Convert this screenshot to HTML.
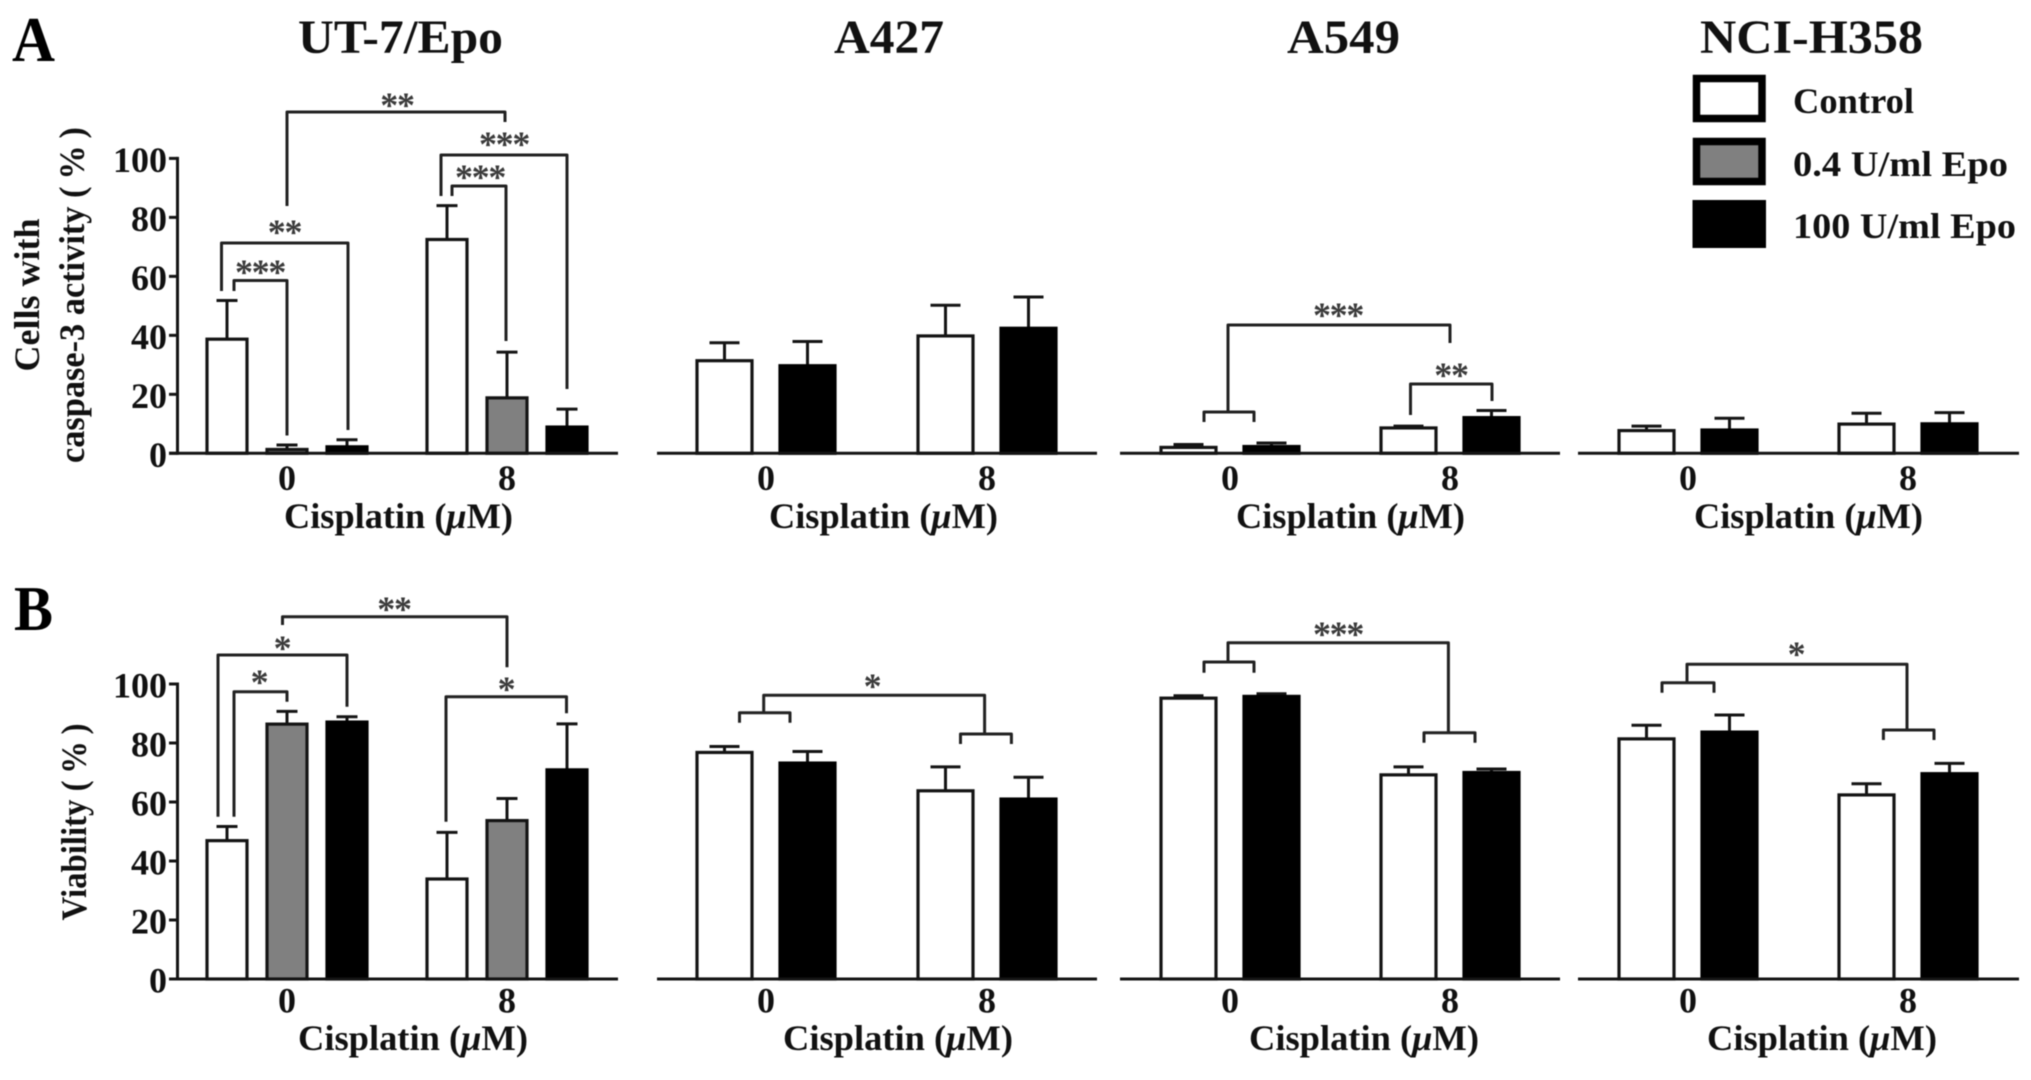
<!DOCTYPE html>
<html lang="en">
<head>
<meta charset="utf-8">
<title>Caspase-3 activity and viability by cell line</title>
<style>
  html, body { margin: 0; padding: 0; background: #fff; }
  svg { display: block; filter: blur(0.6px); }
  text { font-family: "Liberation Serif", serif; font-weight: bold; fill: #111; }
  .title { font-size: 48px; }
  .panel-letter { font-size: 64px; fill: #000; }
  .label { font-size: 36px; }
  .stars { font-size: 36px; letter-spacing: -1.3px; fill: #3a3a3a; text-anchor: middle; }
  .bracket { fill: none; stroke: #222; stroke-width: 3; stroke-linejoin: round; }
</style>
</head>
<body>
<svg id="figure" width="2031" height="1080" viewBox="0 0 2031 1080" xmlns="http://www.w3.org/2000/svg">

  <text class="panel-letter" x="12" y="61" textLength="43" lengthAdjust="spacingAndGlyphs">A</text>
  <text class="panel-letter" x="14" y="630" textLength="39" lengthAdjust="spacingAndGlyphs">B</text>

  <text class="title" x="298" y="53" textLength="205" lengthAdjust="spacingAndGlyphs">UT-7/Epo</text>
  <text class="title" x="834" y="53" textLength="110" lengthAdjust="spacingAndGlyphs">A427</text>
  <text class="title" x="1287" y="53" textLength="113" lengthAdjust="spacingAndGlyphs">A549</text>
  <text class="title" x="1700" y="53" textLength="223" lengthAdjust="spacingAndGlyphs">NCI-H358</text>

  <text class="label" text-anchor="middle" transform="translate(39,295) rotate(-90)">Cells with</text>
  <text class="label" text-anchor="middle" textLength="336" lengthAdjust="spacingAndGlyphs" transform="translate(84,295) rotate(-90)">caspase-3 activity (&#8201;%&#8201;)</text>
  <text class="label" text-anchor="middle" textLength="197" lengthAdjust="spacingAndGlyphs" transform="translate(86,822) rotate(-90)">Viability (&#8201;%&#8201;)</text>

  <g>
    <text class="label" x="284" y="528" textLength="229" lengthAdjust="spacingAndGlyphs">Cisplatin (<tspan font-style="italic">μ</tspan>M)</text>
    <text class="label" x="769" y="528" textLength="229" lengthAdjust="spacingAndGlyphs">Cisplatin (<tspan font-style="italic">μ</tspan>M)</text>
    <text class="label" x="1236" y="528" textLength="229" lengthAdjust="spacingAndGlyphs">Cisplatin (<tspan font-style="italic">μ</tspan>M)</text>
    <text class="label" x="1694" y="528" textLength="229" lengthAdjust="spacingAndGlyphs">Cisplatin (<tspan font-style="italic">μ</tspan>M)</text>
    <text class="label" x="298" y="1050" textLength="230" lengthAdjust="spacingAndGlyphs">Cisplatin (<tspan font-style="italic">μ</tspan>M)</text>
    <text class="label" x="783" y="1050" textLength="230" lengthAdjust="spacingAndGlyphs">Cisplatin (<tspan font-style="italic">μ</tspan>M)</text>
    <text class="label" x="1249" y="1050" textLength="230" lengthAdjust="spacingAndGlyphs">Cisplatin (<tspan font-style="italic">μ</tspan>M)</text>
    <text class="label" x="1707" y="1050" textLength="230" lengthAdjust="spacingAndGlyphs">Cisplatin (<tspan font-style="italic">μ</tspan>M)</text>
  </g>

  <g>
    <rect x="1696.5" y="78.5" width="65.5" height="40" fill="#fff" stroke="#000" stroke-width="7.5"/>
    <text class="label" x="1793" y="113" textLength="121" lengthAdjust="spacingAndGlyphs">Control</text>
    <rect x="1696.5" y="141.5" width="65.5" height="40" fill="#808080" stroke="#000" stroke-width="7.5"/>
    <text class="label" x="1793" y="176" textLength="215" lengthAdjust="spacingAndGlyphs">0.4 U/ml Epo</text>
    <rect x="1692.5" y="200" width="73.5" height="48" fill="#000"/>
    <text class="label" x="1793" y="238" textLength="223" lengthAdjust="spacingAndGlyphs">100 U/ml Epo</text>
  </g>

  <g id="plots"></g>

  <g>
    <path class="bracket" d="M287 206V112H505V122"/>
    <text class="stars" x="397" y="117">**</text>
    <path class="bracket" d="M441 196V155H567V389"/>
    <text class="stars" x="504" y="156">***</text>
    <path class="bracket" d="M452 196V186H506V341"/>
    <text class="stars" x="480" y="189">***</text>
    <path class="bracket" d="M221.5 291V243H348V430"/>
    <text class="stars" x="284.500" y="244">**</text>
    <path class="bracket" d="M234 291V280.500H287V435.500"/>
    <text class="stars" x="260" y="284">***</text>
  </g>

  <g>
    <path class="bracket" d="M1204 422V412H1254V422"/>
    <path class="bracket" d="M1228 412V325H1450V343"/>
    <text class="stars" x="1338" y="327">***</text>
    <path class="bracket" d="M1410.500 415V384H1492V401"/>
    <text class="stars" x="1451" y="387">**</text>
  </g>

  <g>
    <path class="bracket" d="M282.500 625V616.700H507V667.300"/>
    <text class="stars" x="394" y="621">**</text>
    <path class="bracket" d="M218 816.700V655H347V706.700"/>
    <text class="stars" x="282" y="660">*</text>
    <path class="bracket" d="M234 816.700V691.700H287V701.700"/>
    <text class="stars" x="259" y="694">*</text>
    <path class="bracket" d="M446 821.700V696.700H566.500V713.300"/>
    <text class="stars" x="506" y="701">*</text>
  </g>

  <g>
    <path class="bracket" d="M739.500 722.700V712.700H790V722.700"/>
    <path class="bracket" d="M763.700 712.700V695.300H984.600V734"/>
    <path class="bracket" d="M960.500 744V734H1011.400V744"/>
    <text class="stars" x="872" y="698">*</text>
  </g>

  <g>
    <path class="bracket" d="M1204 672.700V662H1254V672.700"/>
    <path class="bracket" d="M1228 662V642.700H1448.400V732.700"/>
    <path class="bracket" d="M1424 742.700V732.700H1475V742.700"/>
    <text class="stars" x="1338" y="646">***</text>
  </g>

  <g>
    <path class="bracket" d="M1662 692.700V682.700H1714V692.700"/>
    <path class="bracket" d="M1687 682.700V664.300H1907V730"/>
    <path class="bracket" d="M1883.400 740V730H1934V740"/>
    <text class="stars" x="1796" y="666">*</text>
  </g>
</svg>

<script>
// Categories and tick labels
const categories = ['0', '8'];
const yTickLabels = [0, 20, 40, 60, 80, 100];

// Panel A: cells with caspase-3 activity (%) — means and upper error lengths
const ut7CaspaseControl = [38.7, 72.5];
const ut7CaspaseControlErr = [13.1, 11.5];
const ut7CaspaseLow = [1.3, 18.8];
const ut7CaspaseLowErr = [1.5, 15.5];
const ut7CaspaseHigh = [2.2, 8.9];
const ut7CaspaseHighErr = [2.4, 6.1];
const a427CaspaseControl = [31.4, 39.8];
const a427CaspaseControlErr = [6.1, 10.4];
const a427CaspaseHigh = [29.7, 42.4];
const a427CaspaseHighErr = [8.2, 10.6];
const a549CaspaseControl = [2.0, 8.6];
const a549CaspaseControlErr = [1.0, 0.6];
const a549CaspaseHigh = [2.3, 12.1];
const a549CaspaseHighErr = [1.2, 2.4];
const nciCaspaseControl = [7.7, 9.9];
const nciCaspaseControlErr = [1.5, 3.7];
const nciCaspaseHigh = [7.9, 10.0];
const nciCaspaseHighErr = [4.0, 3.8];

// Panel B: viability (%) — means and upper error lengths
const ut7ViabilityControl = [46.9, 33.9];
const ut7ViabilityControlErr = [4.8, 15.8];
const ut7ViabilityLow = [86.4, 53.7];
const ut7ViabilityLowErr = [4.3, 7.5];
const ut7ViabilityHigh = [87.1, 70.9];
const ut7ViabilityHighErr = [1.8, 15.6];
const a427ViabilityControl = [76.8, 63.8];
const a427ViabilityControlErr = [2.0, 8.1];
const a427ViabilityHigh = [73.2, 61.0];
const a427ViabilityHighErr = [3.9, 7.4];
const a549ViabilityControl = [95.2, 69.2];
const a549ViabilityControlErr = [0.8, 2.7];
const a549ViabilityHigh = [95.8, 70.0];
const a549ViabilityHighErr = [0.9, 1.2];
const nciViabilityControl = [81.4, 62.4];
const nciViabilityControlErr = [4.6, 3.8];
const nciViabilityHigh = [83.7, 69.6];
const nciViabilityHighErr = [5.8, 3.5];

// Layout
const SVG_NS = 'http://www.w3.org/2000/svg';
const INK = '#141414';
const seriesFill = { control: '#fff', low: '#808080', high: '#000' };
const rows = {
  caspase: { base: 453.3, top: 158.4, labelY: 490 },
  viability: { base: 979, top: 684, labelY: 1012.5 }
};
const columns = {
  ut7: { left: 287, step: 220, axisStart: 169, axisEnd: 618, barWidth: 43, capWidth: 21, offsets: { control: -60, low: 0, high: 60 } },
  a427: { left: 766, step: 221, axisStart: 657, axisEnd: 1097, barWidth: 58, capWidth: 30, offsets: { control: -41.5, high: 41.5 } },
  a549: { left: 1230, step: 220, axisStart: 1120, axisEnd: 1560, barWidth: 58, capWidth: 30, offsets: { control: -41.5, high: 41.5 } },
  nci: { left: 1688, step: 220, axisStart: 1578, axisEnd: 2019, barWidth: 58, capWidth: 30, offsets: { control: -41.5, high: 41.5 } }
};
const panels = [
  { id: 'ut7-caspase', row: 'caspase', col: 'ut7', yAxis: true, series: [['control', ut7CaspaseControl, ut7CaspaseControlErr], ['low', ut7CaspaseLow, ut7CaspaseLowErr], ['high', ut7CaspaseHigh, ut7CaspaseHighErr]] },
  { id: 'a427-caspase', row: 'caspase', col: 'a427', series: [['control', a427CaspaseControl, a427CaspaseControlErr], ['high', a427CaspaseHigh, a427CaspaseHighErr]] },
  { id: 'a549-caspase', row: 'caspase', col: 'a549', series: [['control', a549CaspaseControl, a549CaspaseControlErr], ['high', a549CaspaseHigh, a549CaspaseHighErr]] },
  { id: 'nci-caspase', row: 'caspase', col: 'nci', series: [['control', nciCaspaseControl, nciCaspaseControlErr], ['high', nciCaspaseHigh, nciCaspaseHighErr]] },
  { id: 'ut7-viability', row: 'viability', col: 'ut7', yAxis: true, series: [['control', ut7ViabilityControl, ut7ViabilityControlErr], ['low', ut7ViabilityLow, ut7ViabilityLowErr], ['high', ut7ViabilityHigh, ut7ViabilityHighErr]] },
  { id: 'a427-viability', row: 'viability', col: 'a427', series: [['control', a427ViabilityControl, a427ViabilityControlErr], ['high', a427ViabilityHigh, a427ViabilityHighErr]] },
  { id: 'a549-viability', row: 'viability', col: 'a549', series: [['control', a549ViabilityControl, a549ViabilityControlErr], ['high', a549ViabilityHigh, a549ViabilityHighErr]] },
  { id: 'nci-viability', row: 'viability', col: 'nci', series: [['control', nciViabilityControl, nciViabilityControlErr], ['high', nciViabilityHigh, nciViabilityHighErr]] }
];

function yScale(rowKey, value) {
  const r = rows[rowKey];
  return r.base - (r.base - r.top) * value / 100;
}
function xScale(colKey, catIndex) {
  const c = columns[colKey];
  return c.left + c.step * catIndex;
}
function make(tag, attrs, parent) {
  const el = document.createElementNS(SVG_NS, tag);
  for (const k in attrs) el.setAttribute(k, attrs[k]);
  parent.appendChild(el);
  return el;
}

const root = document.getElementById('plots');

panels.forEach(function (p) {
  const col = columns[p.col];
  const base = rows[p.row].base;

  const g = make('g', {}, root);
  
  

  p.series.forEach(function (s) {
    const key = s[0], values = s[1], errors = s[2];
    values.forEach(function (v, i) {
      const cx = xScale(p.col, i) + col.offsets[key];
      const top = yScale(p.row, v);
      const errTop = yScale(p.row, v + errors[i]);

      const stem = make('line', { x1: cx, x2: cx, y1: top, y2: errTop, stroke: INK, 'stroke-width': 3 }, g);
      
      

      const cap = make('line', { x1: cx - col.capWidth / 2, x2: cx + col.capWidth / 2, y1: errTop, y2: errTop, stroke: INK, 'stroke-width': 3 }, g);
      
      

      const bar = make('rect', {
        x: cx - col.barWidth / 2 + 1.5,
        y: top,
        width: col.barWidth - 3,
        height: base - top,
        fill: seriesFill[key],
        stroke: key === 'high' ? '#000' : INK,
        'stroke-width': 3.2
      }, g);
      
      
    });
  });

  const xAxis = make('line', { x1: col.axisStart, x2: col.axisEnd, y1: base, y2: base, stroke: INK, 'stroke-width': 3 }, g);
  
  

  categories.forEach(function (cat, i) {
    const t = make('text', { x: xScale(p.col, i), y: rows[p.row].labelY, 'text-anchor': 'middle', 'class': 'label' }, g);
    t.textContent = cat;
    
    
  });

  if (p.yAxis) {
    const yAxis = make('line', { x1: 177.5, x2: 177.5, y1: base + 1.5, y2: yScale(p.row, 100) - 1.5, stroke: INK, 'stroke-width': 3 }, g);
    
    

    yTickLabels.forEach(function (tick) {
      const y = yScale(p.row, tick);
      const mark = make('line', { x1: 169, x2: 177.5, y1: y, y2: y, stroke: INK, 'stroke-width': 3 }, g);
      
      

      const label = make('text', { x: 167, y: y + 13.5, 'text-anchor': 'end', 'class': 'label' }, g);
      label.textContent = tick;
      
      
    });
  }
});
</script>
</body>
</html>
